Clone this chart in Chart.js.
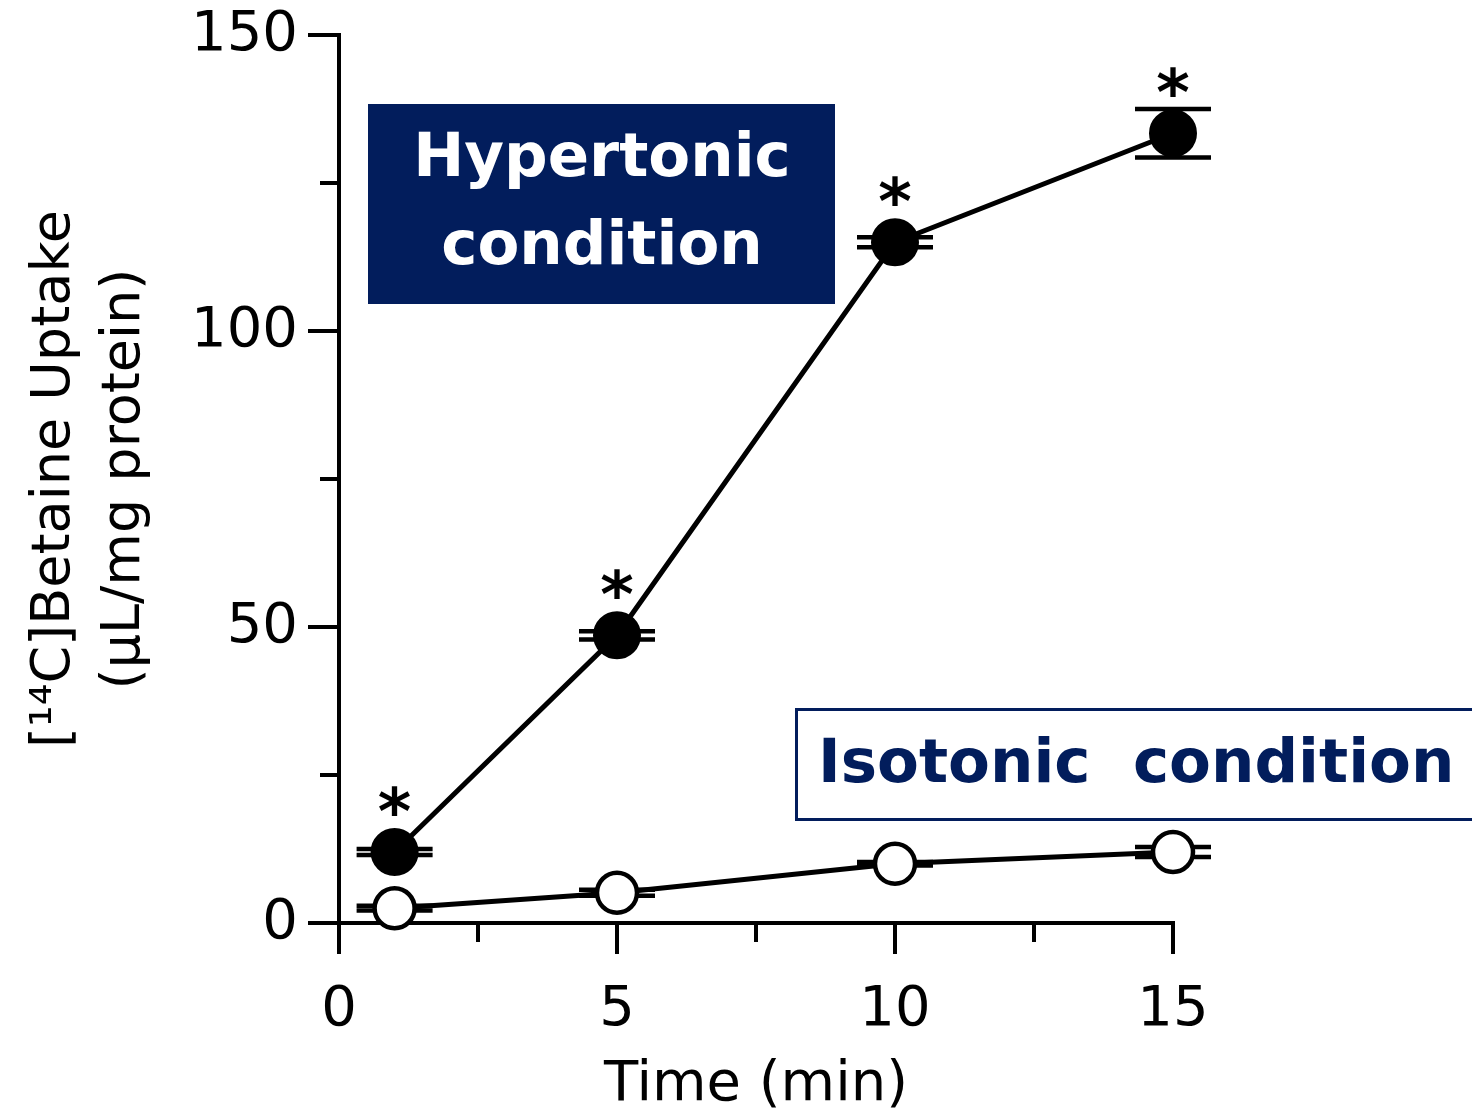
<!DOCTYPE html>
<html>
<head>
<meta charset="utf-8">
<script src="https://cdn.jsdelivr.net/npm/chart.js@4.4.0/dist/chart.umd.min.js"></script>
<style>
  html, body { margin: 0; padding: 0; background: #fff; }
  canvas { display: block; }
</style>
</head>
<body>
<canvas id="grafico" width="1472" height="1119"></canvas>
<script>
// Dados: captação de [14C]betaína ao longo do tempo
const tempos = [1, 5, 10, 15]
const hipertonico = [12.0, 48.6, 115.0, 133.4]
const hipertonicoErro = [0.5, 0.7, 0.85, 4.1]
const isotonico = [2.5, 5.1, 10.0, 12.0]
const isotonicoErro = [0.4, 0.5, 0.3, 0.85]
const significancia = ['*', '*', '*', '*']
const rotulosY = [0, 50, 100, 150]
const rotulosX = [0, 5, 10, 15]

const AZUL = '#021d5c'
const FONTE = "'DejaVu Sans', sans-serif"

// Eixos desenhados à mão, com ticks maiores e menores
const eixos = {
  id: 'eixos',
  beforeDatasetsDraw(chart) {
    const ctx = chart.ctx
    const sx = chart.scales.x
    const sy = chart.scales.y
    const x0 = sx.getPixelForValue(0)
    const y0 = sy.getPixelForValue(0)
    ctx.save()
    ctx.strokeStyle = '#000'
    ctx.lineWidth = 4
    ctx.lineCap = 'square'
    ctx.beginPath()
    ctx.moveTo(x0, sy.getPixelForValue(150))
    ctx.lineTo(x0, y0 + 29)
    ctx.moveTo(x0 - 29, y0)
    ctx.lineTo(sx.getPixelForValue(15), y0)
    sy.ticks.forEach(function (t) {
      const py = sy.getPixelForValue(t.value)
      const len = rotulosY.includes(t.value) ? 29 : 17
      ctx.moveTo(x0, py)
      ctx.lineTo(x0 - len, py)
    })
    sx.ticks.forEach(function (t) {
      const px = sx.getPixelForValue(t.value)
      const len = rotulosX.includes(t.value) ? 29 : 17
      ctx.moveTo(px, y0)
      ctx.lineTo(px, y0 + len)
    })
    ctx.stroke()

    // barras de erro (ficam por baixo dos marcadores)
    function barras(valores, erros) {
      valores.forEach(function (v, i) {
        const px = sx.getPixelForValue(tempos[i])
        const topo = sy.getPixelForValue(v + erros[i])
        const base = sy.getPixelForValue(v - erros[i])
        ctx.beginPath()
        ctx.moveTo(px, topo)
        ctx.lineTo(px, base)
        ctx.moveTo(px - 38, topo)
        ctx.lineTo(px + 38, topo)
        ctx.moveTo(px - 38, base)
        ctx.lineTo(px + 38, base)
        ctx.stroke()
      })
    }
    ctx.lineCap = 'butt'
    ctx.lineWidth = 4.5
    barras(hipertonico, hipertonicoErro)
    barras(isotonico, isotonicoErro)
    ctx.restore()
  }
}

// Caixas de legenda e asteriscos de significância
const anotacoes = {
  id: 'anotacoes',
  afterDatasetsDraw(chart) {
    const ctx = chart.ctx
    const sx = chart.scales.x
    const sy = chart.scales.y
    ctx.save()

    ctx.fillStyle = '#000'
    ctx.font = 'bold 64px ' + FONTE
    ctx.textAlign = 'center'
    ctx.textBaseline = 'alphabetic'
    significancia.forEach(function (s, i) {
      const px = sx.getPixelForValue(tempos[i])
      const py = sy.getPixelForValue(hipertonico[i]) - 51
      const m = ctx.measureText(s)
      const meio = (m.actualBoundingBoxAscent - m.actualBoundingBoxDescent) / 2
      ctx.fillText(s, px, py + meio)
    })

    ctx.fillStyle = AZUL
    ctx.fillRect(368, 104, 467, 200)
    ctx.fillStyle = '#fff'
    ctx.font = 'bold 61px ' + FONTE
    ctx.textBaseline = 'middle'
    ctx.fillText('Hypertonic', 602, 160)
    ctx.fillText('condition', 602, 248)

    ctx.strokeStyle = AZUL
    ctx.lineWidth = 3
    ctx.strokeRect(796.5, 709.5, 720, 110)
    ctx.fillStyle = AZUL
    ctx.textAlign = 'left'
    ctx.fillText('Isotonic  condition', 818, 766)

    ctx.restore()
  }
}

window.addEventListener('DOMContentLoaded', function () {
  const ctx = document.getElementById('grafico').getContext('2d')

  new Chart(ctx, {
    type: 'line',
    data: {
      datasets: [{
        label: 'Hypertonic',
        data: tempos.map(function (t, i) { return { x: t, y: hipertonico[i] } }),
        borderColor: '#000',
        borderWidth: 5,
        pointRadius: 22,
        pointBorderWidth: 4,
        pointBackgroundColor: '#000',
        pointBorderColor: '#000',
        clip: false
      }, {
        label: 'Isotonic',
        data: tempos.map(function (t, i) { return { x: t, y: isotonico[i] } }),
        borderColor: '#000',
        borderWidth: 5,
        pointRadius: 20,
        pointBorderWidth: 4.5,
        pointBackgroundColor: '#fff',
        pointBorderColor: '#000',
        clip: false
      }]
    },
    options: {
      responsive: false,
      animation: false,
      devicePixelRatio: 1,
      events: [],
      layout: { padding: { top: 0, right: 299, bottom: 0, left: 0 } },
      plugins: {
        legend: { display: false },
        tooltip: { enabled: false }
      },
      scales: {
        x: {
          type: 'linear',
          min: 0,
          max: 15,
          afterFit: function (scale) { scale.height = 196 },
          grid: { display: false },
          border: { display: false },
          ticks: {
            stepSize: 2.5,
            autoSkip: false,
            maxRotation: 0,
            padding: 46,
            color: '#000',
            font: { family: FONTE, size: 56 },
            callback: function (v) { return rotulosX.includes(v) ? String(v) : '' }
          },
          title: {
            display: true,
            text: 'Time (min)',
            color: '#000',
            font: { family: FONTE, size: 56, lineHeight: 1.2 },
            padding: { top: 0, bottom: 0 }
          }
        },
        y: {
          min: 0,
          max: 150,
          afterFit: function (scale) { scale.width = 339 },
          // o espaço entre rótulo e eixo vem do tickLength invisível
          grid: {
            display: true,
            drawOnChartArea: false,
            drawTicks: true,
            tickLength: 41,
            tickColor: 'rgba(0,0,0,0)'
          },
          border: { display: false },
          ticks: {
            stepSize: 25,
            autoSkip: false,
            padding: 0,
            color: '#000',
            font: { family: FONTE, size: 56, lineHeight: 1.25 },
            callback: function (v) { return rotulosY.includes(v) ? String(v) : '' }
          },
          title: {
            display: true,
            text: ['[¹⁴C]Betaine Uptake', '(µL/mg protein)'],
            color: '#000',
            font: { family: FONTE, size: 54, lineHeight: 1.3 },
            padding: { top: 20, bottom: 0 }
          }
        }
      }
    },
    plugins: [eixos, anotacoes]
  })
})
</script>
</body>
</html>
